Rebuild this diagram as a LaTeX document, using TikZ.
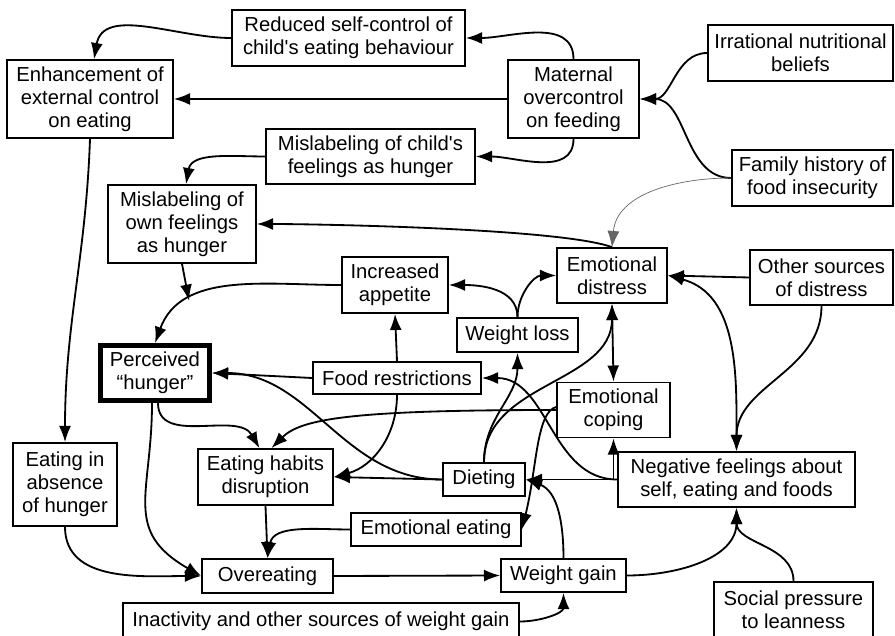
\documentclass[tikz,border=0pt]{standalone}
\usepackage{fontspec}
\setmainfont{Liberation Sans}
\usetikzlibrary{arrows.meta}
\newcommand{\px}{0.025cm}

\begin{document}
\begin{tikzpicture}[x=\px, y=-\px,
    box/.style={draw, rectangle, line width=1.2pt, align=center, inner sep=1pt, font=\fontsize{14.4pt}{16.4pt}\selectfont},
    arr/.style={line width=1.3pt, -{Latex[length=11.5pt,width=8.5pt]}},
    both/.style={line width=1.3pt, {Latex[length=11.5pt,width=8.5pt]}-{Latex[length=11.5pt,width=8.5pt]}}]
    \clip (0,0) rectangle (895,636);

    % Top rows
    \node[box, minimum width=233*\px, minimum height=56*\px] (reduced) at (348.5,38) {Reduced self-control of\\child\textquotesingle s eating behaviour};
    \node[box, minimum width=166*\px, minimum height=78*\px] (enhance) at (90,99) {Enhancement of\\external control\\on eating};
    \node[box, minimum width=131*\px, minimum height=78*\px] (maternal) at (573.5,99) {Maternal\\overcontrol\\on feeding};
    \node[box, minimum width=185*\px, minimum height=56*\px] (beliefs) at (800.5,53) {Irrational nutritional\\beliefs};
    \node[box, minimum width=209*\px, minimum height=55*\px] (mislabchild) at (370.5,156.5) {Mislabeling of child\textquotesingle s\\feelings as hunger};
    \node[box, minimum width=161*\px, minimum height=56*\px] (history) at (812.5,178) {Family history of\\food insecurity};
    \node[box, minimum width=148*\px, minimum height=78*\px] (mislabown) at (182,224) {Mislabeling of\\own feelings\\as hunger};

    % Middle rows
    \node[box, minimum width=106*\px, minimum height=56*\px] (appetite) at (395,285) {Increased\\appetite};
    \node[box, minimum width=110*\px, minimum height=55*\px] (distress) at (612,275.5) {Emotional\\distress};
    \node[box, minimum width=143*\px, minimum height=55*\px] (othersrc) at (821.5,277.5) {Other sources\\of distress};
    \node[box, minimum width=121*\px, minimum height=34*\px] (wloss) at (517.5,335) {Weight loss};
    \node[box, line width=3.5pt, minimum width=109*\px, minimum height=55*\px] (hunger) at (155,373) {Perceived\\``hunger''};
    \node[box, minimum width=168*\px, minimum height=32*\px] (restrict) at (397,378) {Food restrictions};
    \node[box, minimum width=113*\px, minimum height=55*\px] (coping) at (613.5,410) {Emotional\\coping};

    % Lower rows
    \node[box, minimum width=104*\px, minimum height=83*\px] (absence) at (65,484.5) {Eating in\\absence\\of hunger};
    \node[box, minimum width=135*\px, minimum height=56*\px] (habits) at (265.5,477) {Eating habits\\disruption};
    \node[box, minimum width=82*\px, minimum height=33*\px] (dieting) at (484,479.5) {Dieting};
    \node[box, minimum width=237*\px, minimum height=55*\px] (negative) at (736.5,479.5) {Negative feelings about\\self, eating and foods};
    \node[box, minimum width=170*\px, minimum height=33*\px] (emoeating) at (436,529.5) {Emotional eating};
    \node[box, minimum width=131*\px, minimum height=34*\px] (overeat) at (267.5,576) {Overeating};
    \node[box, minimum width=125*\px, minimum height=33*\px] (wgain) at (563.5,575.5) {Weight gain};
    \node[box, minimum width=396*\px, minimum height=37*\px] (inactive) at (321,621.5) {Inactivity and other sources of weight gain};
    \node[box, minimum width=159*\px, minimum height=56*\px] (social) at (793.5,610) {Social pressure\\to leanness};

    % Maternal side
    \draw[arr] (maternal.north) to[out=90,in=0] (reduced.east);
    \draw[arr] (reduced.west) to[out=180,in=80] ([xshift=4*\px]enhance.north);
    \draw[arr] (maternal.west) -- (enhance.east);
    \draw[arr] (maternal.south) to[out=-90,in=0] (mislabchild.east);
    \draw[arr] (mislabchild.west) to[out=180,in=80] ([xshift=4*\px]mislabown.north);
    \draw[arr] (beliefs.west) to[out=180,in=0] (maternal.east);
    \draw[arr] (history.west) to[out=180,in=0] (maternal.east);
    \draw[arr, line width=0.5pt, draw=black!60] (history.west) to[out=180,in=85] (distress.north);
    \draw[arr] (distress.north) to[out=160,in=0,looseness=0.4] (mislabown.east);
    \draw[arr] (enhance.south) to[out=-92,in=90] (absence.north);

    % Hunger
    \draw[arr] (appetite.west) to[out=180,in=70] coordinate[pos=0.72] (join) (hunger.north);
    \draw[arr] (mislabown.south) -- (join);
    \draw[arr] (restrict.north) -- (appetite.south);
    \draw[arr] (wloss.north) to[out=90,in=0] (appetite.east);
    \draw[arr] (wloss.north) to[out=90,in=180] (distress.west);
    \draw[arr] (othersrc.west) -- (distress.east);
    \draw[both] (distress.south) -- (coping.north);
    \draw[both] (distress.east) to[out=-15,in=90] (negative.north);
    \draw[arr] (othersrc.south) to[out=-90,in=90] (negative.north);
    \draw[arr] (restrict.west) -- (hunger.east);
    \draw[arr] (dieting.west) to[out=180,in=0] (hunger.east);
    \draw[arr] (restrict.south) to[out=-90,in=15] (habits.east);
    \draw[arr] (dieting.west) -- (habits.east);
    \draw[arr] ([xshift=3*\px]hunger.south) to[out=-90,in=120] ([xshift=-6*\px]habits.north);
    \draw[arr] (coping.west) .. controls +(-200,0) and +(30,-30) .. ([xshift=6*\px]habits.north);
    \draw[arr] ([yshift=3*\px]coping.west) .. controls +(-20,5) and +(15,-60) .. (emoeating.east);
    \draw[arr] (dieting.north) to[out=90,in=-90] (wloss.south);
    \draw[arr] (dieting.north) to[out=90,in=-90] (distress.south);

    % Negative feelings and weight
    \draw[arr] (coping.south |- negative.west) -- (coping.south);
    \draw[arr] (negative.west) -- (dieting.east);
    \draw[arr] (negative.west) to[out=180,in=0] (restrict.east);
    \draw[arr] (wgain.north) to[out=90,in=-20] (dieting.east);
    \draw[arr] (wgain.east) to[out=0,in=-90] (negative.south);
    \draw[arr] (social.north) to[out=90,in=-90] (negative.south);
    \draw[arr] (inactive.east) to[out=0,in=-90] (wgain.south);
    \draw[arr] (overeat.east) -- (wgain.west);
    \draw[arr] (habits.south) -- (overeat.north);
    \draw[arr] (emoeating.west) to[out=180,in=80] (overeat.north);
    \draw[arr] (absence.south) to[out=-90,in=180] (overeat.west);
    \draw[arr] ([xshift=-3*\px]hunger.south) to[out=-90,in=150,looseness=1.3] (overeat.west);

\end{tikzpicture}
\end{document}
